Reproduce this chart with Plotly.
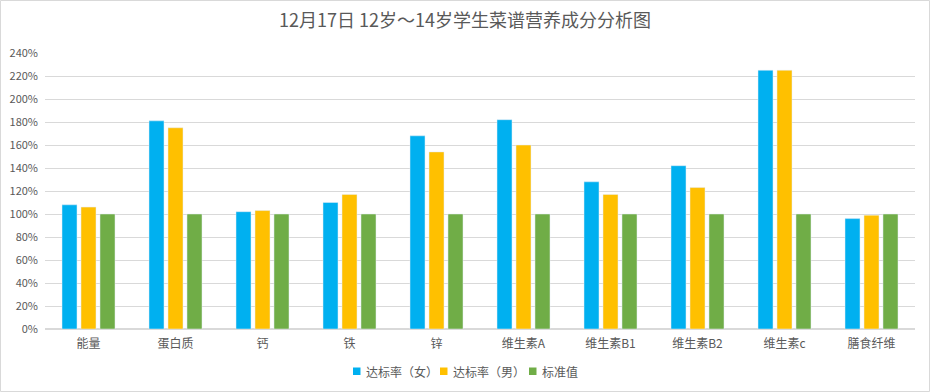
import plotly.graph_objects as go

categories = ["能量", "蛋白质", "钙", "铁", "锌", "维生素A", "维生素B1", "维生素B2", "维生素c", "膳食纤维"]
female = [108, 181, 102, 110, 168, 182, 128, 142, 225, 96]
male = [106, 175, 103, 117, 154, 160, 117, 123, 225, 99]
standard = [100, 100, 100, 100, 100, 100, 100, 100, 100, 100]
series_names = ["达标率（女）", "达标率（男）", "标准值"]
series_colors = ["#00B0F0", "#FFC000", "#70AD47"]
tick_vals = list(range(0, 241, 20))
tick_text = [f"{v}%" for v in tick_vals]

font_family = "Noto Sans CJK SC, Noto Sans, sans-serif"
text_color = "#595959"

# plot area geometry (pixels)
L, R, T, B = 45, 15, 53, 63
W, H = 930 - L - R, 392 - T - B

def px_x(px):
    return (px - L) / W

def px_y(py):
    return (392 - B - py) / H

fig = go.Figure()
for name, vals, col in zip(series_names, [female, male, standard], series_colors):
    fig.add_trace(go.Bar(name=name, x=categories, y=vals, marker_color=col))

# custom legend (square + text) below the plot
legend_sq_x = [353, 440, 529]
legend_tx_x = [364, 451, 540]
legend_y = 371
shapes = [dict(type="rect", xref="paper", yref="paper", x0=px_x(0.5), x1=px_x(929.5),
               y0=px_y(391.5), y1=px_y(0.5), line=dict(color="#D9D9D9", width=1))]
annotations = []
for sx, tx, name, col in zip(legend_sq_x, legend_tx_x, series_names, series_colors):
    shapes.append(dict(type="rect", xref="paper", yref="paper",
                       x0=px_x(sx), x1=px_x(sx + 7.5), y0=px_y(legend_y + 4), y1=px_y(legend_y - 3.5),
                       fillcolor=col, line=dict(width=0)))
    annotations.append(dict(text=name, xref="paper", yref="paper", x=px_x(tx), y=px_y(legend_y),
                            xanchor="left", yanchor="middle", showarrow=False,
                            font=dict(size=12, color=text_color, family=font_family)))

fig.update_layout(
    width=930, height=392,
    barmode="group", bargap=0.345, bargroupgap=0.21,
    paper_bgcolor="white", plot_bgcolor="white",
    margin=dict(l=L, r=R, t=T, b=B),
    font=dict(family=font_family, color=text_color, size=12),
    title=dict(text="12月17日 12岁～14岁学生菜谱营养成分分析图", x=0.5, xanchor="center",
               y=1 - 21 / 392, yanchor="middle",
               font=dict(size=18, color=text_color, family=font_family)),
    showlegend=False,
    shapes=shapes,
    annotations=annotations,
)
fig.update_yaxes(range=[0, 240], tickvals=tick_vals, ticktext=tick_text, automargin=False,
                 showgrid=True, gridcolor="#D9D9D9", gridwidth=1,
                 zeroline=True, zerolinecolor="#D9D9D9", showline=False,
                 tickfont=dict(size=11, color=text_color), ticklabelstandoff=6)
fig.update_xaxes(showgrid=False, showline=True, linecolor="#D9D9D9", automargin=False,
                 tickfont=dict(size=12, color=text_color), ticklabelstandoff=4)

fig.write_html("out.html", config={"displayModeBar": False},
               post_script="document.body.style.margin='0';")
